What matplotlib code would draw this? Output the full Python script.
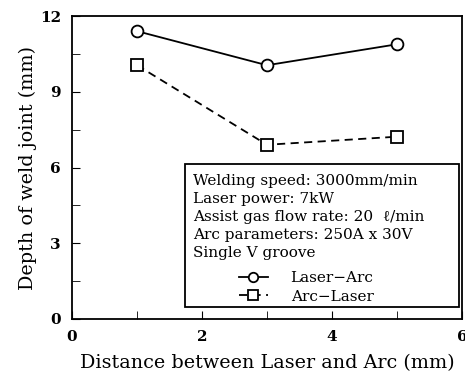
import matplotlib
matplotlib.use("Agg")
import matplotlib.pyplot as plt
from matplotlib.patches import Rectangle
from matplotlib.ticker import MultipleLocator

plt.rcParams['font.family'] = ['DejaVu Serif', 'Liberation Serif']

distance = [1, 3, 5]
laser_arc = [11.4, 10.05, 10.88]
arc_laser = [10.05, 6.9, 7.22]
conditions = [
    "Welding speed: 3000mm/min",
    "Laser power: 7kW",
    "Assist gas flow rate: 20  \u2113/min",
    "Arc parameters: 250A x 30V",
    "Single V groove",
]

fig = plt.figure(figsize=(4.65, 3.72), dpi=100)
ax = fig.add_axes([72 / 465, 53 / 372, 390 / 465, 303 / 372])

ax.plot(distance, laser_arc, '-', color='black', lw=1.3, marker='o', ms=8.5,
        mfc='white', mec='black', mew=1.3, label='Laser\u2212Arc')
ax.plot(distance, arc_laser, '--', color='black', lw=1.3, marker='s', ms=8.5,
        mfc='white', mec='black', mew=1.3, label='Arc\u2212Laser', dashes=(4.5, 3))

ax.set_xlim(0, 6)
ax.set_ylim(0, 12)
ax.xaxis.set_major_locator(MultipleLocator(2))
ax.xaxis.set_minor_locator(MultipleLocator(1))
ax.yaxis.set_major_locator(MultipleLocator(3))
ax.yaxis.set_minor_locator(MultipleLocator(1.5))
ax.tick_params(which='both', direction='in', top=False, right=False)
ax.tick_params(which='major', length=6, labelsize=11, pad=8)
ax.tick_params(which='minor', length=6)
for lab in ax.get_xticklabels() + ax.get_yticklabels():
    lab.set_fontweight('bold')
for s in ax.spines.values():
    s.set_linewidth(1.3)

ax.set_xlabel('Distance between Laser and Arc (mm)', fontsize=13.8, labelpad=7)
ax.set_ylabel('Depth of weld joint (mm)', fontsize=13.8, labelpad=2)

ax.add_patch(Rectangle((0.29, 0.04), 0.702, 0.47, transform=ax.transAxes,
                       fill=True, facecolor='white', edgecolor='black', lw=1.3, zorder=3))
ax.text(0.31, 0.48, "\n".join(conditions), transform=ax.transAxes, fontsize=11,
        va='top', ha='left', linespacing=1.38, zorder=4)
leg = ax.legend(loc='lower left', bbox_to_anchor=(0.4, 0.015), frameon=False,
                fontsize=11, handlelength=1.9, handletextpad=1.5, labelspacing=0.32,
                borderpad=0.2, markerscale=0.8)
leg.set_zorder(5)

fig.savefig('out.png', dpi=100)
